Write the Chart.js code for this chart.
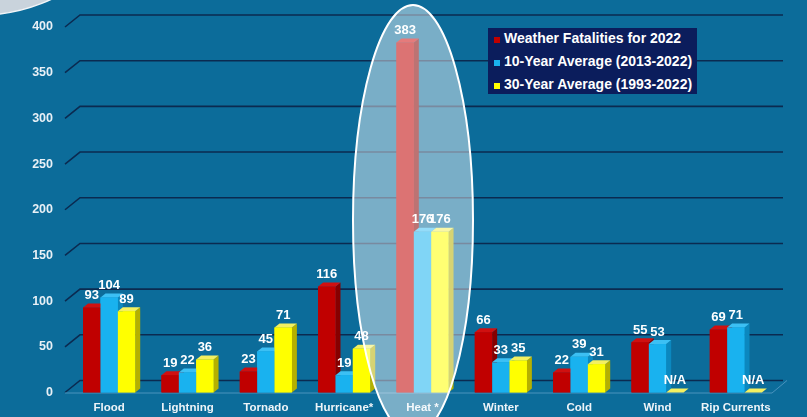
<!DOCTYPE html>
<html>
<head>
<meta charset="utf-8">
<script src="https://cdn.jsdelivr.net/npm/chart.js@4.4.0/dist/chart.umd.min.js"></script>
<style>
  html, body { margin: 0; padding: 0; }
  body { width: 807px; height: 417px; overflow: hidden; background: #0c6c9a; position: relative; font-family: "Liberation Sans", Arial, sans-serif; }
  #wrap { position: absolute; left: 0; top: 0; width: 807px; height: 417px; }
  .legend { position: absolute; left: 488px; top: 28px; width: 209px; height: 66px; background: #0b1d5c; }
  .legend div { position: absolute; left: 16px; color: #fff; font-weight: bold; font-size: 14px; line-height: 16px; white-space: nowrap; }
  .legend span { position: absolute; left: -10px; top: 7px; width: 6px; height: 6px; }
</style>
</head>
<body>
<div id="wrap"><canvas id="chart"></canvas></div>
<div class="legend" id="legend"></div>
<script>
const categories = ['Flood', 'Lightning', 'Tornado', 'Hurricane*', 'Heat *', 'Winter', 'Cold', 'Wind', 'Rip Currents'];
const fatalities2022 = [93, 19, 23, 116, 383, 66, 22, 55, 69];
const avg10Year = [104, 22, 45, 19, 176, 33, 39, 53, 71];
const avg30Year = [89, 36, 71, 48, 176, 35, 31, null, null];
const seriesNames = ['Weather Fatalities for 2022', '10-Year Average (2013-2022)', '30-Year Average (1993-2022)'];
const yMax = 400;
const yStep = 50;

const frontColors = ['#c00000', '#19b2ef', '#ffff00'];
const sideColors = ['#860000', '#0b88bf', '#b5b000'];
const topColors = ['#d01010', '#3cc0f4', '#f4f060'];

const DX = 5, DY = 4;        // bar depth
const GX = 15, GY = 12;      // back wall offset

// legend (html)
const legendEl = document.getElementById('legend');
seriesNames.forEach((name, i) => {
  const d = document.createElement('div');
  d.style.top = (2 + i * 23) + 'px';
  d.innerHTML = `<span style="background:${frontColors[i]}"></span>${name}`;
  legendEl.appendChild(d);
});

const backdrop = {
  id: 'backdrop',
  beforeDraw(chart) {
    const ctx = chart.ctx;
    ctx.save();
    ctx.beginPath();
    ctx.arc(-19, -150, 165, 0, Math.PI * 2);
    ctx.fillStyle = '#c9d3dc';
    ctx.fill();
    ctx.lineWidth = 1.5;
    ctx.strokeStyle = '#f2f5f8';
    ctx.stroke();
    ctx.restore();
  },
  beforeDatasetsDraw(chart) {
    const ctx = chart.ctx;
    const y = chart.scales.y;
    const area = chart.chartArea;
    ctx.save();
    ctx.strokeStyle = '#0b2a50';
    ctx.lineWidth = 1.6;
    for (let v = 0; v <= yMax; v += yStep) {
      const yf = y.getPixelForValue(v);
      ctx.beginPath();
      ctx.moveTo(area.left - 5, yf);
      ctx.lineTo(area.left - 5 + GX, yf - GY);
      ctx.lineTo(area.right + 8, yf - GY);
      ctx.stroke();
    }
    // floor front edge
    const y0 = y.getPixelForValue(0);
    ctx.strokeStyle = '#4a93bd';
    ctx.lineWidth = 1;
    ctx.beginPath();
    ctx.moveTo(area.left - 5, y0 + 0.5);
    ctx.lineTo(area.right - 3, y0 + 0.5);
    ctx.lineTo(area.right - 3 + GX, y0 - GY);
    ctx.stroke();
    ctx.restore();
  },
  afterDatasetsDraw(chart) {
    const ctx = chart.ctx;
    const base = chart.scales.y.getPixelForValue(0);
    ctx.save();
    // sides / tops then fronts again, left to right in each group
    chart.data.datasets.forEach((ds, di) => {
      const meta = chart.getDatasetMeta(di);
      meta.data.forEach((bar, i) => {
        const p = bar.getProps(['x', 'y', 'width'], true);
        const v = ds.data[i];
        const top = v == null ? base : p.y;
        const l = p.x - p.width / 2, r = p.x + p.width / 2;
        ctx.fillStyle = sideColors[di];
        ctx.beginPath();
        ctx.moveTo(r, top); ctx.lineTo(r + DX, top - DY); ctx.lineTo(r + DX, base - DY); ctx.lineTo(r, base);
        ctx.closePath(); ctx.fill();
        ctx.fillStyle = topColors[di];
        ctx.beginPath();
        ctx.moveTo(l, top); ctx.lineTo(l + DX, top - DY); ctx.lineTo(r + DX, top - DY); ctx.lineTo(r, top);
        ctx.closePath(); ctx.fill();
        if (v != null) bar.draw(ctx);
      });
    });
    // value labels
    ctx.font = 'bold 13px "Liberation Sans Narrow", "Arial Narrow", sans-serif';
    ctx.fillStyle = '#ffffff';
    ctx.textAlign = 'center';
    ctx.textBaseline = 'middle';
    chart.data.datasets.forEach((ds, di) => {
      chart.getDatasetMeta(di).data.forEach((bar, i) => {
        const v = ds.data[i];
        const top = v == null ? base : bar.y;
        ctx.fillText(v == null ? 'N/A' : String(v), bar.x, top - 12);
      });
    });
    ctx.restore();
  },
  afterDraw(chart) {
    const ctx = chart.ctx;
    ctx.save();
    ctx.beginPath();
    ctx.ellipse(413, 220, 60, 215, 0, 0, Math.PI * 2);
    ctx.fillStyle = 'rgba(255,255,255,0.45)';
    ctx.fill();
    ctx.lineWidth = 2;
    ctx.strokeStyle = '#ffffff';
    ctx.stroke();
    ctx.restore();
  }
};

new Chart(document.getElementById('chart'), {
  type: 'bar',
  data: {
    labels: categories,
    datasets: [
      { label: seriesNames[0], data: fatalities2022, backgroundColor: frontColors[0] },
      { label: seriesNames[1], data: avg10Year, backgroundColor: frontColors[1] },
      { label: seriesNames[2], data: avg30Year, backgroundColor: frontColors[2] }
    ]
  },
  options: {
    responsive: true,
    maintainAspectRatio: false,
    animation: false,
    categoryPercentage: 0.665,
    barPercentage: 1.0,
    layout: { padding: { top: 27, right: 32, left: 0, bottom: 0 } },
    plugins: {
      legend: { display: false },
      tooltip: { enabled: false }
    },
    scales: {
      x: {
        grid: { display: false, drawTicks: false },
        border: { display: false },
        ticks: {
          color: '#eef4f8',
          font: { family: '"Liberation Sans", Arial, sans-serif', size: 11.5, weight: 'bold' },
          padding: 8,
          maxRotation: 0,
          autoSkip: false
        },
        afterFit(scale) { scale.height = 23; }
      },
      y: {
        min: 0,
        max: yMax,
        grid: { display: false, drawTicks: false },
        border: { display: false },
        ticks: {
          stepSize: yStep,
          color: '#e8f0f6',
          font: { family: '"Liberation Sans", Arial, sans-serif', size: 12.5, weight: 'bold' },
          padding: 17
        },
        afterFit(scale) { scale.width = 70; }
      }
    }
  },
  plugins: [backdrop]
});
</script>
</body>
</html>
